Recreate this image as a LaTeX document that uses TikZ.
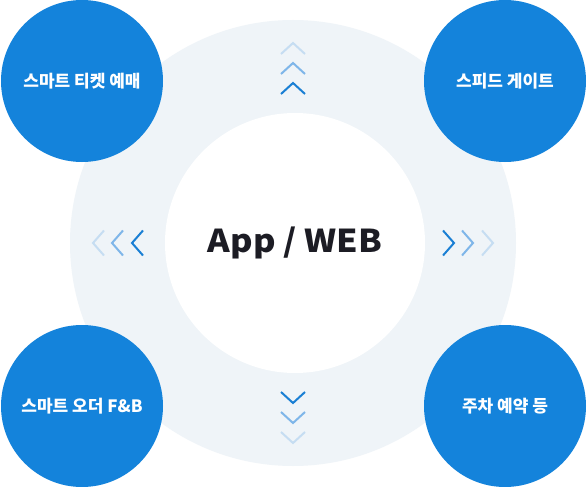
\documentclass[tikz,border=0pt]{standalone}
\usepackage{fontspec}
\setmainfont{Noto Sans CJK KR}
\definecolor{ringbg}{HTML}{EFF4F8}
\definecolor{bluec}{HTML}{1483DB}
\definecolor{chevA}{HTML}{1A7FD4}
\definecolor{chevB}{HTML}{7FB6E9}
\definecolor{chevC}{HTML}{C6DDF2}
\definecolor{titlec}{HTML}{1C1C24}
\tikzset{
  bluecirc/.style={circle, fill=bluec, minimum size=162pt, inner sep=0pt, text=white, font=\bfseries\fontsize{17}{20}\selectfont},
  chev/.style={line width=2pt, miter limit=10},
}
\begin{document}
\begin{tikzpicture}[x=1pt,y=-1pt]
\useasboundingbox (0,0) rectangle (587,487);
\fill[white] (0,0) rectangle (587,487);
\node[circle, fill=ringbg, minimum size=446pt, inner sep=0pt] (ring) at (293,243) {};
\node[circle, fill=white, minimum size=260pt, inner sep=0pt, text=titlec, font=\bfseries\fontsize{31.5}{36}\selectfont] (core) at (295,243) {\scalebox{1.09}[1]{App / WEB}};
% up chevrons
\foreach \t/\c in {43/chevC,63/chevB,83/chevA}{
  \draw[chev, \c] (281,\t+11) -- (293,\t) -- (305,\t+11);
}
% down chevrons
\foreach \t/\c in {403/chevA,423/chevB,443/chevC}{
  \draw[chev, \c] (281,\t-11) -- (293,\t) -- (305,\t-11);
}
% left chevrons
\foreach \t/\c in {93/chevC,112/chevB,132/chevA}{
  \draw[chev, \c] (\t+11,230.5) -- (\t,243) -- (\t+11,255.5);
}
% right chevrons
\foreach \t/\c in {454/chevA,473/chevB,493/chevC}{
  \draw[chev, \c] (\t-11,230.5) -- (\t,243) -- (\t-11,255.5);
}
\node[bluecirc] (ticket) at (82,81) {스마트 티켓 예매};
\node[bluecirc] (gate) at (505,81) {스피드 게이트};
\node[bluecirc] (order) at (82,406) {스마트 오더 F\&B};
\node[bluecirc] (park) at (505,406) {주차 예약 등};
\end{tikzpicture}
\end{document}
